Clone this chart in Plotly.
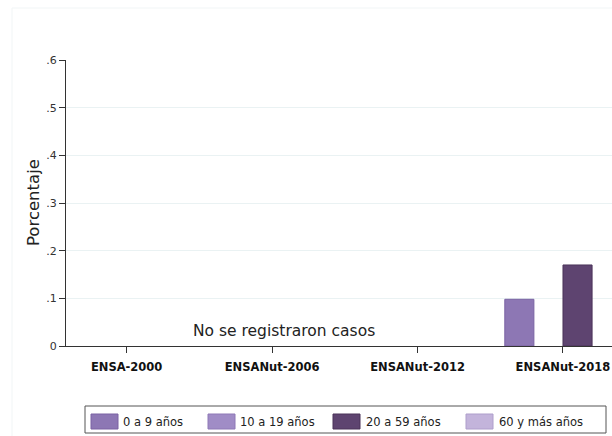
import plotly.graph_objects as go

# Datos
encuestas = ["ENSA-2000", "ENSANut-2006", "ENSANut-2012", "ENSANut-2018"]
grupos_edad = ["0 a 9 años", "10 a 19 años", "20 a 59 años", "60 y más años"]
val_0_9 = [None, None, None, 0.098]
val_10_19 = [None, None, None, None]
val_20_59 = [None, None, None, 0.17]
val_60_mas = [None, None, None, None]
y_ticks = [0, 0.1, 0.2, 0.3, 0.4, 0.5, 0.6]
y_ticktext = ["0", ".1", ".2", ".3", ".4", ".5", ".6"]

colores = ["#8d77b4", "#a08cc6", "#5e4470", "#c3b4db"]
bordes = ["#7a63a3", "#8e79b6", "#4b3359", "#ae9ecb"]
series = [val_0_9, val_10_19, val_20_59, val_60_mas]

W, H = 612, 436
L, R, T, B = 66, 0, 60, 90
PW, PH = W - L - R, H - T - B
FONT = "DejaVu Sans"


def px_x(x):
    return (x - L) / PW


def px_y(y):
    return (H - B - y) / PH


fig = go.Figure()
for nombre, vals, c, b in zip(grupos_edad, series, colores, bordes):
    fig.add_trace(go.Bar(
        x=encuestas, y=vals, name=nombre,
        marker=dict(color=c, line=dict(color=b, width=1)),
        showlegend=False
    ))

shapes = []
annotations = []

# borde tenue de la región del gráfico
shapes.append(dict(type="line", xref="paper", yref="paper",
                   x0=px_x(12), x1=px_x(612), y0=px_y(8), y1=px_y(8),
                   line=dict(color="#f1f5f6", width=1)))
shapes.append(dict(type="line", xref="paper", yref="paper",
                   x0=px_x(12), x1=px_x(12), y0=px_y(8), y1=px_y(436),
                   line=dict(color="#f1f5f6", width=1)))

# leyenda manual
shapes.append(dict(type="rect", xref="paper", yref="paper",
                   x0=px_x(85), x1=px_x(606), y0=px_y(406), y1=px_y(433),
                   line=dict(color="#555555", width=1), fillcolor="white"))
sw_x = [91, 208, 333, 466]
tx_x = [121, 238, 364, 497]
for nombre, c, b, sx, tx in zip(grupos_edad, colores, bordes, sw_x, tx_x):
    shapes.append(dict(type="rect", xref="paper", yref="paper",
                       x0=px_x(sx), x1=px_x(sx + 27), y0=px_y(414), y1=px_y(429),
                       line=dict(color=b, width=1), fillcolor=c))
    annotations.append(dict(text=nombre, xref="paper", yref="paper",
                            x=px_x(tx), y=px_y(421.5), xanchor="left", yanchor="middle",
                            showarrow=False, font=dict(size=11.5, color="#222222")))

annotations.append(dict(text="No se registraron casos", xref="paper", yref="paper",
                        x=px_x(284), y=px_y(331), xanchor="center", yanchor="middle",
                        showarrow=False, font=dict(size=15.5, color="#222222")))
annotations.append(dict(text="Porcentaje", xref="paper", yref="paper",
                        x=px_x(33), y=px_y(203), xanchor="center", yanchor="middle",
                        textangle=-90, showarrow=False,
                        font=dict(size=16.5, color="#222222")))

fig.update_layout(
    width=W, height=H,
    margin=dict(l=L, r=R, t=T, b=B),
    barmode="group", bargap=0.2, bargroupgap=0,
    plot_bgcolor="white", paper_bgcolor="white",
    font=dict(family=FONT, color="#222222"),
    shapes=shapes, annotations=annotations,
    showlegend=False
)
fig.update_xaxes(
    range=[-0.417, 3.337],
    showline=True, linecolor="#333333", linewidth=1,
    ticks="outside", ticklen=6, tickcolor="#333333",
    ticklabelstandoff=4,
    tickfont=dict(size=11.5, color="#111111"),
    tickvals=encuestas, ticktext=["<b>" + e + "</b>" for e in encuestas],
    showgrid=False
)
fig.update_yaxes(
    range=[0, 0.6],
    tickvals=y_ticks, ticktext=y_ticktext,
    showline=True, linecolor="#333333", linewidth=1,
    ticks="outside", ticklen=6, tickcolor="#333333",
    tickfont=dict(size=11, color="#333333"),
    showgrid=True, gridcolor="#eaf2f3", gridwidth=1,
    zeroline=False
)

fig.write_html("out.html", config={"displayModeBar": False},
               post_script="document.body.style.margin='0';")
